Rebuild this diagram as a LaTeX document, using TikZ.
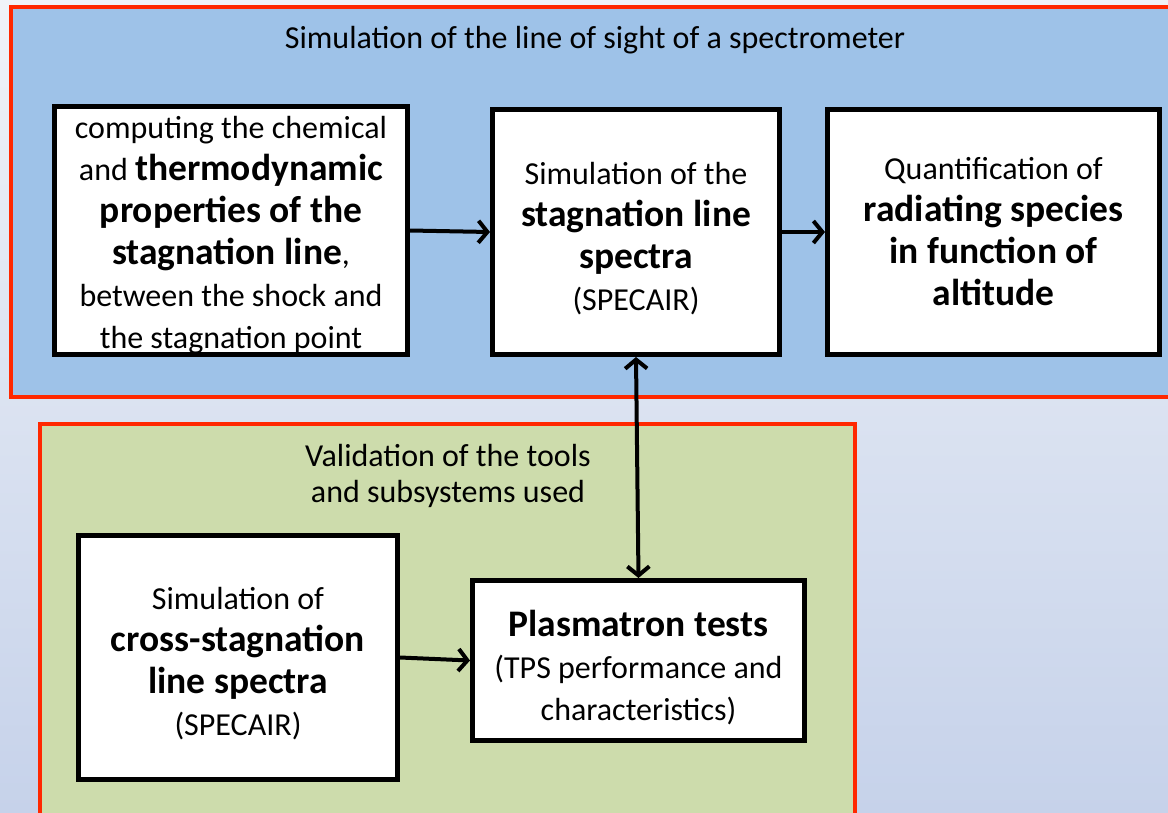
\documentclass[tikz,border=0pt]{standalone}
\usepackage{fontspec}
\setmainfont{Carlito}
\usetikzlibrary{arrows.meta,positioning}

\definecolor{panelred}{RGB}{255,40,0}
\definecolor{simblue}{RGB}{158,194,232}
\definecolor{valgreen}{RGB}{205,220,172}
\definecolor{skytop}{RGB}{240,243,248}
\definecolor{skylow}{RGB}{198,210,234}
\newcommand{\hl}[1]{\textbf{\fontsize{37.5}{42}\selectfont #1}}
\newcommand{\topline}[2]{\raisebox{0pt}[#1pt]{#2}}

\begin{document}
\begin{tikzpicture}[
  x=1pt,y=-1pt,
  panel/.style={draw=panelred,line width=4.5pt},
  box/.style={draw,fill=white,line width=5pt,align=center,
    font=\fontsize{32}{42}\selectfont,inner sep=0pt},
  title/.style={align=center,font=\fontsize{32}{36}\selectfont},
  arrow/.style={-{Straight Barb[length=9pt,width=22pt,line width=4pt]},line width=4pt},
  both/.style={{Straight Barb[length=9pt,width=22pt,line width=4pt]}-{Straight Barb[length=9pt,width=22pt,line width=4pt]},line width=4pt}
]
\useasboundingbox (0,0) rectangle (1168,812);
\clip (0,0) rectangle (1168,812);
\shade[top color=skytop,bottom color=skylow] (0,0) rectangle (1168,812);

% panels
\fill[simblue] (11,7) rectangle (1180,397);
\draw[panel] (11,7) rectangle (1180,397);
\fill[valgreen] (40,424) rectangle (855,830);
\draw[panel] (40,424) rectangle (855,830);

\node[title] (simtitle) at (595,40) {Simulation of the line of sight of a spectrometer};
\node[title] (valtitle) at (448,476) {Validation of the tools\\and subsystems used};

% boxes
\node[box,minimum width=353,minimum height=248] (chem) at (231,230.5)
  {\topline{31}{computing the chemical}\\and \hl{thermodynamic}\\
   \hl{properties of the}\\
   \hl{stagnation line},\\
   between the shock and\\the stagnation point};
\node[box,minimum width=287,minimum height=245] (spectra) at (636,232)
  {\topline{35}{Simulation of the}\\\hl{stagnation line}\\
   \hl{spectra}\\(SPECAIR)};
\node[box,minimum width=332,minimum height=245] (quant) at (993.5,232)
  {Quantification of\\\hl{radiating species}\\
   \hl{in function of}\\
   \hl{altitude}};
\node[box,minimum width=319,minimum height=244] (cross) at (238,657.5)
  {\topline{34}{Simulation of}\\\hl{cross-stagnation}\\
   \hl{line spectra}\\(SPECAIR)};
\node[box,minimum width=332,minimum height=160] (plasma) at (638.5,660.5)
  {\topline{40}{\hl{Plasmatron tests}}\\(TPS performance and\\characteristics)};

% connectors
\draw[arrow] (chem.east) -- (spectra.west);
\draw[arrow] (spectra.east) -- (quant.west);
\draw[both] (spectra.south) -- (plasma.north);
\draw[arrow] (cross.east) -- (plasma.west);
\end{tikzpicture}
\end{document}
